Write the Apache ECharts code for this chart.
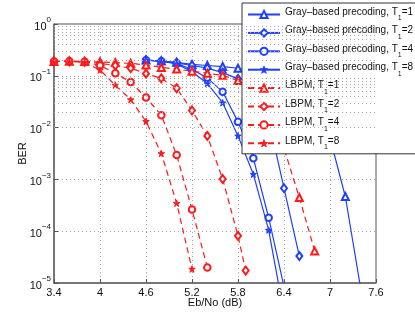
<!DOCTYPE html>
<html>
<head>
<meta charset="utf-8">
<script src="https://cdn.jsdelivr.net/npm/echarts@6/dist/echarts.min.js"></script>
<style>html,body{margin:0;padding:0;background:#fff;}#c{width:415px;height:319px;}</style>
</head>
<body>
<div id="c"></div>
<script>
// ---- data (BER vs Eb/No in dB) ----
const xTicks = [3.4, 4.0, 4.6, 5.2, 5.8, 6.4, 7.0, 7.6];
const yDecades = [-5, -4, -3, -2, -1];
const minorMult = [2, 3, 4, 5, 6, 7, 8, 9];

const grayX1 = [4.6, 4.8, 5.0, 5.2, 5.4, 5.6, 5.8, 6.0, 6.2, 6.4, 6.6, 6.8, 7.0, 7.2, 7.4];
const grayT1 = [0.202, 0.193, 0.182, 0.166, 0.158, 0.151, 0.140, 0.126, 0.107, 0.0832, 0.0537, 0.0251, 0.0063, 4.68e-4, 7.9e-6];

const grayX2 = [4.6, 4.8, 5.0, 5.2, 5.4, 5.6, 5.8, 6.0, 6.2, 6.4, 6.6];
const grayT2 = [0.200, 0.191, 0.178, 0.158, 0.141, 0.115, 0.0871, 0.0447, 0.0141, 6.76e-4, 3.31e-5];

const grayX4 = [4.6, 4.8, 5.0, 5.2, 5.4, 5.6, 5.8, 6.0, 6.2, 6.4];
const grayT4 = [0.200, 0.191, 0.174, 0.132, 0.0912, 0.0490, 0.0129, 2.57e-3, 1.82e-4, 8.5e-6];

const grayX8 = [4.6, 4.8, 5.0, 5.2, 5.4, 5.6, 5.8, 6.0, 6.2, 6.4];
const grayT8 = [0.200, 0.191, 0.170, 0.120, 0.0708, 0.0302, 6.92e-3, 1.26e-3, 1.05e-4, 2.57e-6];

const lbpmX1 = [3.4, 3.6, 3.8, 4.0, 4.2, 4.4, 4.6, 4.8, 5.0, 5.2, 5.4, 5.6, 5.8, 6.0, 6.2, 6.4, 6.6, 6.8];
const lbpmT1 = [0.189, 0.191, 0.188, 0.186, 0.180, 0.174, 0.162, 0.145, 0.135, 0.123, 0.112, 0.102, 0.0813, 0.0447, 0.0158, 3.98e-3, 4.47e-4, 4.17e-5];

const lbpmX2 = [3.4, 3.6, 3.8, 4.0, 4.2, 4.4, 4.6, 4.8, 5.0, 5.2, 5.4, 5.6, 5.8, 5.9];
const lbpmT2 = [0.189, 0.191, 0.186, 0.174, 0.158, 0.140, 0.110, 0.0891, 0.0575, 0.0214, 6.92e-3, 1.02e-3, 8.13e-5, 1.74e-5];

const lbpmX4 = [3.4, 3.6, 3.8, 4.0, 4.2, 4.4, 4.6, 4.8, 5.0, 5.2, 5.4];
const lbpmT4 = [0.189, 0.191, 0.186, 0.158, 0.112, 0.0759, 0.0380, 0.0174, 2.95e-3, 2.63e-4, 2.0e-5];

const lbpmX8 = [3.4, 3.6, 3.8, 4.0, 4.2, 4.4, 4.6, 4.8, 5.0, 5.2];
const lbpmT8 = [0.189, 0.191, 0.182, 0.129, 0.0661, 0.0347, 0.0132, 3.16e-3, 3.47e-4, 1.86e-5];

const names = [
  'Gray–based precoding, T1=1', 'Gray–based precoding, T1=2',
  'Gray–based precoding, T1=4', 'Gray–based precoding, T1=8',
  'LBPM, T1=1', 'LBPM, T1=2', 'LBPM, T1=4', 'LBPM, T1=8'
];

// ---- styling ----
const BLUE = '#1f3fff';
const RED = '#ff1a1a';
const FONT = 'Liberation Sans, Arial, sans-serif';
const STAR = 'path://M0,-10 L2.2,-3.2 L9.5,-3.1 L3.6,1.2 L5.9,8.1 L0,3.9 L-5.9,8.1 L-3.6,1.2 L-9.5,-3.1 L-2.2,-3.2 Z';

function zip(xs, ys) { return xs.map((x, i) => [x, ys[i]]); }

function mkSeries(name, xs, ys, color, symbol, size, dashed) {
  return {
    name: name,
    type: 'line',
    data: zip(xs, ys),
    symbol: symbol,
    symbolSize: size,
    showAllSymbol: true,
    clip: true,
    color: color,
    itemStyle: { color: color, borderColor: color, borderWidth: 1 },
    lineStyle: { color: color, width: 1.2, type: dashed ? [6, 4] : 'solid' },
    emphasis: { disabled: true },
    animation: false
  };
}

const minorLines = [];
yDecades.forEach(d => minorMult.forEach(m => minorLines.push({ yAxis: m * Math.pow(10, d) })));

const series = [
  mkSeries(names[0], grayX1, grayT1, BLUE, 'emptyTriangle', 7, false),
  mkSeries(names[1], grayX2, grayT2, BLUE, 'emptyDiamond', [6, 8], false),
  mkSeries(names[2], grayX4, grayT4, BLUE, 'emptyCircle', 6.5, false),
  mkSeries(names[3], grayX8, grayT8, BLUE, STAR, 6.5, false),
  mkSeries(names[4], lbpmX1, lbpmT1, RED, 'emptyTriangle', 7, true),
  mkSeries(names[5], lbpmX2, lbpmT2, RED, 'emptyDiamond', [6, 8], true),
  mkSeries(names[6], lbpmX4, lbpmT4, RED, 'emptyCircle', 6.5, true),
  mkSeries(names[7], lbpmX8, lbpmT8, RED, STAR, 6.5, true),
  {
    name: 'minorgrid', type: 'line', data: [], silent: true, animation: false, z: 0,
    markLine: {
      silent: true, symbol: ['none', 'none'], label: { show: false }, animation: false,
      lineStyle: { type: [1, 3], color: '#a8a8a8', width: 1 },
      emphasis: { disabled: true },
      data: minorLines
    }
  }
];

const chart = echarts.init(document.getElementById('c'), null, { renderer: 'canvas' });
chart.setOption({
  backgroundColor: '#fff',
  animation: false,
  textStyle: { fontFamily: FONT },
  grid: { left: 54, right: 39, top: 24, bottom: 36, show: true, borderColor: '#555', borderWidth: 1, backgroundColor: 'transparent' },
  legend: {
    data: names,
    orient: 'vertical',
    left: 242, top: 3,
    padding: [4, 4, 3, 5],
    itemWidth: 32, itemHeight: 9, itemGap: 3.4,
    backgroundColor: '#fff',
    borderColor: '#333', borderWidth: 1,
    selectedMode: false,
    itemStyle: { borderWidth: 1 },
    formatter: n => '{t|' + n.replace('T1=', 'T}{s|1}{t|=') + '}',
    textStyle: {
      fontFamily: FONT, fontSize: 10, color: '#111', lineHeight: 15,
      rich: {
        t: { fontFamily: FONT, fontSize: 10, color: '#111', lineHeight: 12, verticalAlign: 'top' },
        s: { fontFamily: FONT, fontSize: 7, color: '#111', lineHeight: 15, verticalAlign: 'bottom' }
      }
    }
  },
  xAxis: {
    type: 'value', min: 3.4, max: 7.6,
    name: 'Eb/No (dB)', nameLocation: 'middle', nameGap: 14, nameMoveOverlap: false,
    nameTextStyle: { fontFamily: FONT, fontSize: 11, color: '#111' },
    axisLine: { show: true, lineStyle: { color: '#666', width: 1.5 } },
    axisTick: { show: true, inside: true, length: 4, customValues: xTicks, lineStyle: { color: '#555' } },
    axisLabel: { customValues: xTicks, fontFamily: FONT, fontSize: 11, color: '#111', margin: 4, formatter: v => String(Math.round(v * 10) / 10) },
    splitLine: { show: true, lineStyle: { type: [1, 3], color: '#a8a8a8' } }
  },
  yAxis: {
    type: 'log', logBase: 10, min: 1e-5, max: 1,
    name: 'BER', nameLocation: 'middle', nameGap: 26, nameMoveOverlap: false,
    nameTextStyle: { fontFamily: FONT, fontSize: 11, color: '#111' },
    axisLine: { show: true, lineStyle: { color: '#666', width: 1.5 } },
    axisTick: { show: true, inside: true, length: 4, lineStyle: { color: '#555' } },
    axisLabel: {
      fontFamily: FONT, color: '#111', margin: 3,
      formatter: v => {
        const e = Math.round(Math.log10(v));
        return '{b|10}{s|' + (e < 0 ? '−' + (-e) : String(e)) + '}';
      },
      rich: {
        b: { fontFamily: FONT, fontSize: 11, color: '#111', lineHeight: 16, verticalAlign: 'bottom', padding: [4, 0, 0, 0] },
        s: { fontFamily: FONT, fontSize: 8, color: '#111', lineHeight: 16, verticalAlign: 'top' }
      }
    },
    splitLine: { show: true, lineStyle: { type: [1, 3], color: '#a8a8a8' } }
  },
  series: series
});
</script>
</body>
</html>
